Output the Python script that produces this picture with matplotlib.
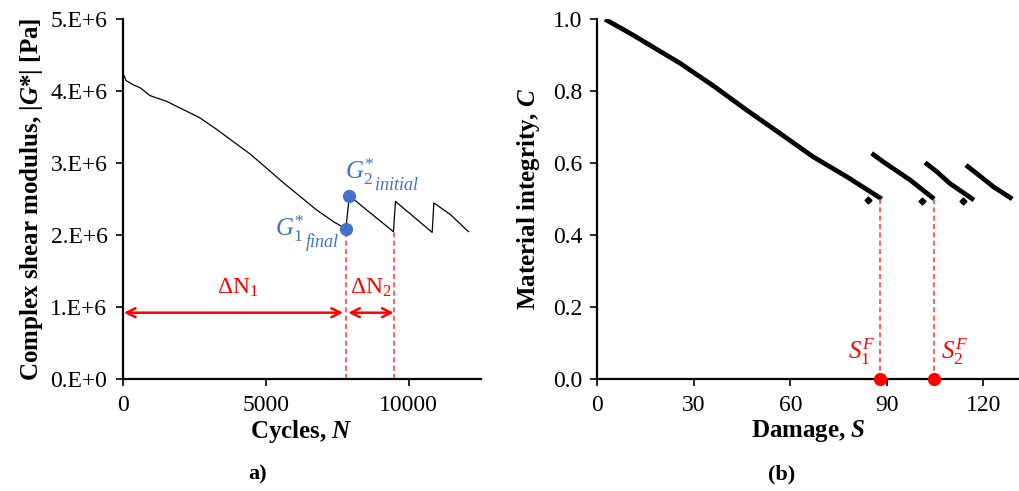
import matplotlib
matplotlib.use('Agg')
import matplotlib.pyplot as plt

plt.rcParams['font.family'] = ['Liberation Serif', 'DejaVu Serif']
plt.rcParams['mathtext.fontset'] = 'custom'
plt.rcParams['mathtext.rm'] = 'Liberation Serif'
plt.rcParams['mathtext.it'] = 'Liberation Serif:italic'
plt.rcParams['mathtext.bf'] = 'Liberation Serif:bold:italic'

# (a) modulo vs cicli
cycles = [0, 45, 115, 371, 605, 955, 1538, 1888, 2353, 2703, 3287, 3867, 4451,
          5035, 5615, 6199, 6783, 7364, 7797, 7923, 8531, 9462, 9532, 10161,
          10815, 10874, 11444, 12085]
g_mod = [4.17e6, 4.22e6, 4.15e6, 4.09e6, 4.05e6, 3.94e6, 3.86e6, 3.79e6, 3.70e6,
         3.63e6, 3.47e6, 3.30e6, 3.13e6, 2.93e6, 2.73e6, 2.54e6, 2.35e6, 2.19e6,
         2.09e6, 2.55e6, 2.35e6, 2.05e6, 2.47e6, 2.26e6, 2.04e6, 2.45e6, 2.29e6,
         2.05e6]
g1_final = (7797, 2.09e6)
g2_initial = (7923, 2.55e6)
dn_ends = [0, 7700, 7880, 9470]
yticks_a = [0, 1e6, 2e6, 3e6, 4e6, 5e6]
ylabels_a = ['0.E+0', '1.E+6', '2.E+6', '3.E+6', '4.E+6', '5.E+6']
xticks_a = [0, 5000, 10000]

# (b) integrita vs danno
seg_s = [[2.4, 10.2, 25.7, 36.1, 46.4, 56.8, 67.1, 77.5, 88.4],
         [85.3, 88.9, 97.2, 104.7],
         [101.9, 105.5, 109.6, 117.1],
         [114.6, 117.9, 123.1, 129.0]]
seg_c = [[1.0, 0.961, 0.878, 0.815, 0.748, 0.683, 0.618, 0.563, 0.501],
         [0.628, 0.604, 0.554, 0.501],
         [0.602, 0.577, 0.544, 0.498],
         [0.595, 0.572, 0.535, 0.501]]
dot_s = [84.2, 100.8, 113.8]
dot_c = [0.498, 0.495, 0.496]
s_fail = [87.9, 104.7]
yticks_b = [0.0, 0.2, 0.4, 0.6, 0.8, 1.0]
xticks_b = [0, 30, 60, 90, 120]

blue = '#4472C4'
red = '#FF0000'
dash_red = '#FF4545'

fig = plt.figure(figsize=(10.19, 4.91), dpi=100)
ax1 = fig.add_axes([0.1204, 0.2275, 0.3516, 0.7332])
ax2 = fig.add_axes([0.5862, 0.2275, 0.4135, 0.7332])

for ax in (ax1, ax2):
    for sp in ['top', 'right']:
        ax.spines[sp].set_visible(False)
    for sp in ['left', 'bottom']:
        ax.spines[sp].set_linewidth(1.6)
    ax.tick_params(direction='out', length=5, width=1.2, labelsize=17, pad=6)

# ---- a)
ax1.plot(cycles, g_mod, color='black', lw=0.9)
ax1.plot(*g1_final, 'o', color=blue, ms=8.5, zorder=5)
ax1.plot(*g2_initial, 'o', color=blue, ms=8.5, zorder=5)
ax1.plot([g1_final[0]] * 2, [0, g1_final[1]], color=dash_red, ls=(0, (3, 2)), lw=1.2)
ax1.plot([dn_ends[3]] * 2, [0, 2.05e6], color=dash_red, ls=(0, (3, 2)), lw=1.2)
arrow = dict(arrowstyle='<->', color=red, lw=1.8, shrinkA=0, shrinkB=0, mutation_scale=16)
ax1.annotate('', xy=(dn_ends[1], 0.925e6), xytext=(dn_ends[0] + 40, 0.925e6), arrowprops=arrow)
ax1.annotate('', xy=(dn_ends[3], 0.925e6), xytext=(dn_ends[2], 0.925e6), arrowprops=arrow)
ax1.text(4030, 1.12e6, r'$\Delta\mathrm{N}_{1}$', color=red, fontsize=17, ha='center', va='bottom')
ax1.text(8680, 1.12e6, r'$\Delta\mathrm{N}_{2}$', color=red, fontsize=17, ha='center', va='bottom')
t1 = ax1.text(5325, 1.993e6, r'$G^{*}_{1}$', color=blue, fontsize=18, ha='left', va='baseline')
ax1.annotate('final', xy=(1, 0), xycoords=t1, xytext=(0.5, -2.5), textcoords='offset points',
             color=blue, fontsize=13, style='italic', ha='left', va='baseline')
t2 = ax1.text(7773, 2.786e6, r'$G^{*}_{2}$', color=blue, fontsize=18, ha='left', va='baseline')
ax1.annotate('initial', xy=(1, 0), xycoords=t2, xytext=(0.5, -2.5), textcoords='offset points',
             color=blue, fontsize=13, style='italic', ha='left', va='baseline')
ax1.set_xlim(0, 12520)
ax1.set_ylim(0, 5e6)
ax1.set_xticks(xticks_a)
ax1.set_yticks(yticks_a)
ax1.set_yticklabels(ylabels_a)
ax1.set_xlabel(r'Cycles, $\mathbf{N}$', fontsize=18, fontweight='bold', labelpad=2)
ax1.set_ylabel(r'Complex shear modulus, |$\mathbf{G}$*| [Pa]', fontsize=18, fontweight='bold', labelpad=4)

# ---- (b)
for s, c in zip(seg_s, seg_c):
    ax2.plot(s, c, color='black', lw=3.4, solid_capstyle='butt')
ax2.plot(dot_s, dot_c, 'D', color='black', ms=3.5)
for s in s_fail:
    ax2.plot([s, s], [0, 0.5], color=dash_red, ls=(0, (3, 2)), lw=1.2)
ax2.plot(s_fail, [0, 0], 'o', color=red, ms=8.5, zorder=5, clip_on=False)
ax2.text(s_fail[0] - 1.5, 0.035, r'$S_{1}^{F}$', color=red, fontsize=18, ha='right', va='bottom')
ax2.text(s_fail[1] + 2, 0.035, r'$S_{2}^{F}$', color=red, fontsize=18, ha='left', va='bottom')
ax2.set_xlim(0, 131)
ax2.set_ylim(0, 1.0)
ax2.set_xticks(xticks_b)
ax2.set_yticks(yticks_b)
ax2.set_yticklabels(['%.1f' % v for v in yticks_b])
ax2.set_xlabel(r'Damage, $\mathbf{S}$', fontsize=18, fontweight='bold', labelpad=2)
ax2.set_ylabel(r'Material integrity, $\mathbf{C}$', fontsize=18, fontweight='bold', labelpad=8)

fig.text(258 / 1019, 1 - 474 / 491, 'a)', fontsize=16, fontweight='bold', ha='center', va='center')
fig.text(782 / 1019, 1 - 474 / 491, '(b)', fontsize=16, fontweight='bold', ha='center', va='center')

fig.savefig('out.png', dpi=100)
